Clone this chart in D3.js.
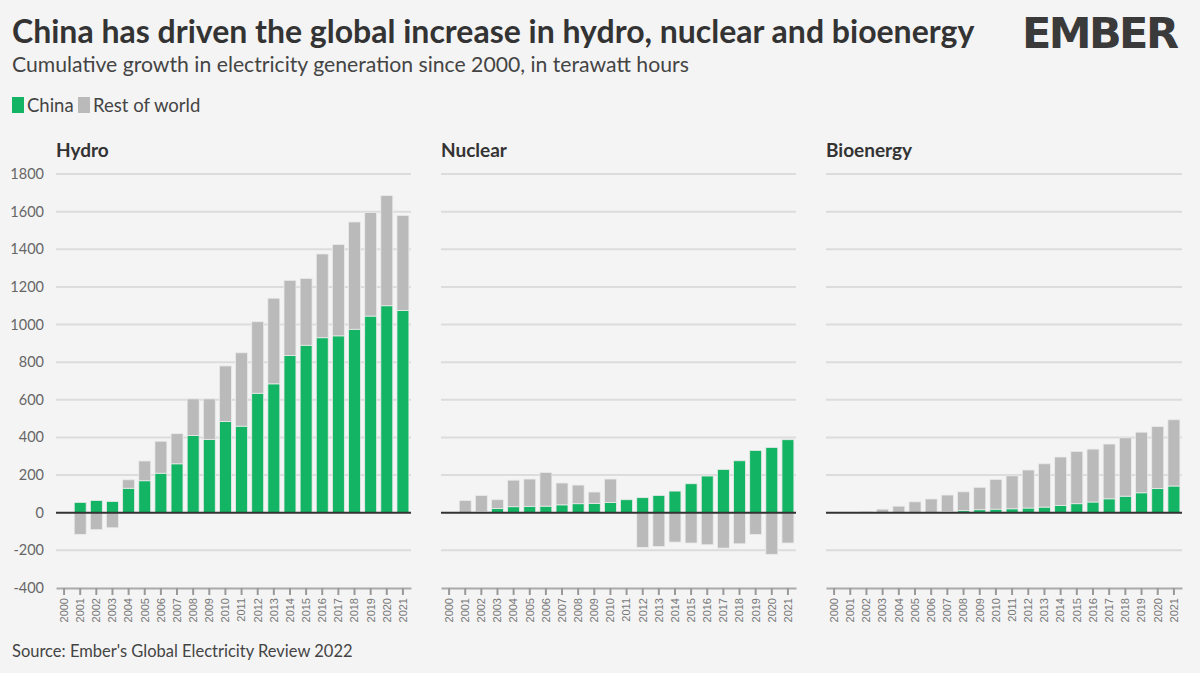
<!DOCTYPE html>
<html><head><meta charset="utf-8">
<script src="https://cdn.jsdelivr.net/npm/d3@7"></script>
<style>body{margin:0;background:#f4f4f4;font-family:"Source Sans Pro",Lato,"Noto Sans",sans-serif}</style>
</head><body><svg id="c" width="1200" height="673"></svg>
<script>
const years=d3.range(2000,2022).map(String);
const yTicks=[-400,-200,0,200,400,600,800,1000,1200,1400,1600,1800];
const hydroChina=[0,55,65,60,130,170,210,260,410,390,485,460,635,685,835,890,930,940,975,1045,1100,1075];
const hydroRest=[0,-115,-90,-80,45,105,170,160,195,215,295,390,380,455,400,355,445,485,570,550,585,505];
const nuclearChina=[0,0,5,23,32,34,35,42,48,50,55,69,80,92,115,154,195,230,276,331,347,388];
const nuclearRest=[0,65,87,46,141,145,179,116,99,60,124,0,-184,-180,-156,-161,-170,-188,-165,-115,-221,-161];
const bioChina=[0,0,0,0,0,0,0,5,11,16,19,21,25,30,39,48,57,74,88,106,129,142];
const bioTotal=[0,0,7,19,35,58,73,94,111,135,177,196,227,260,296,326,338,365,398,428,458,494];
const bioRest=bioTotal.map((t,i)=>t-bioChina[i]);
const panels=[
 {name:"Hydro",china:hydroChina,rest:hydroRest,x0:56,x1:411,labels:true},
 {name:"Nuclear",china:nuclearChina,rest:nuclearRest,x0:441,x1:796,labels:false},
 {name:"Bioenergy",china:bioChina,rest:bioRest,x0:826,x1:1182,labels:false}];
const GREEN="#13b564",GREY="#bababa";
const svg=d3.select("#c");
svg.append("rect").attr("width",1200).attr("height",673).attr("fill","#f4f4f4");
svg.append("text").attr("x",12).attr("y",43).attr("font-size",32).attr("font-weight",700).attr("fill","#333").text("China has driven the global increase in hydro, nuclear and bioenergy");
svg.append("text").attr("x",12).attr("y",72).attr("font-size",21.2).attr("fill","#444").text("Cumulative growth in electricity generation since 2000, in terawatt hours");
const lg=svg.append("g");
lg.append("rect").attr("x",12).attr("y",97).attr("width",12).attr("height",16).attr("fill",GREEN);
lg.append("text").attr("x",27).attr("y",112).attr("font-size",18.5).attr("fill","#444").text("China");
lg.append("rect").attr("x",78).attr("y",97).attr("width",12).attr("height",16).attr("fill",GREY);
lg.append("text").attr("x",93).attr("y",112).attr("font-size",18.5).attr("fill","#444").text("Rest of world");
svg.append("text").attr("x",12).attr("y",657).attr("font-size",16.5).attr("fill","#444").text("Source: Ember's Global Electricity Review 2022");
const logo=svg.append("g");
logo.append("text").attr("x",1180).attr("y",48).attr("text-anchor","end").attr("font-size",43).attr("font-weight",700).attr("letter-spacing",1).attr("textLength",158).attr("fill","#3a3a3a").attr("font-family","'DejaVu Sans',sans-serif").text("EMBER");
const y=d3.scaleLinear().domain([-400,1800]).range([588,174]);
panels.forEach(p=>{
 const g=svg.append("g");
 const x=d3.scaleBand().domain(years).range([p.x0,p.x1]).paddingInner(0.26).paddingOuter(0.13);
 g.append("text").attr("x",p.x0).attr("y",157).attr("font-size",19).attr("font-weight",700).attr("fill","#333").text(p.name);
 yTicks.filter(t=>t!==0&&t!==-400).forEach(t=>{
  g.append("line").attr("x1",p.x0).attr("x2",p.x1).attr("y1",y(t)).attr("y2",y(t)).attr("stroke","#dcdcdc").attr("stroke-width",2);
 });
 if(p.labels){
  yTicks.forEach(t=>g.append("text").attr("x",44).attr("y",y(t)+5).attr("text-anchor","end").attr("font-size",14.5).attr("fill","#666").text(t));
 }
 const bars=[];
 years.forEach((yr,i)=>{
  const c=p.china[i],r=p.rest[i];
  if(c) bars.push({yr,a:0,b:c,col:GREEN});
  if(r>0) bars.push({yr,a:c,b:c+r,col:GREY});
  if(r<0) bars.push({yr,a:r,b:0,col:GREY});
 });
 g.selectAll("rect.b").data(bars).join("rect").attr("x",d=>x(d.yr)).attr("width",x.bandwidth())
  .attr("y",d=>y(d.b)).attr("height",d=>y(d.a)-y(d.b)).attr("fill",d=>d.col).attr("stroke","#eaeaea").attr("stroke-width",0.8);
 g.append("line").attr("x1",p.x0).attr("x2",p.x1).attr("y1",y(0)).attr("y2",y(0)).attr("stroke","#333").attr("stroke-width",2);
 const ax=g.append("g").attr("transform",`translate(0,${y(-400)})`).call(d3.axisBottom(x).tickSize(7).tickSizeOuter(0).tickPadding(5));
 ax.select(".domain").attr("stroke","#aaa").attr("stroke-width",2);
 ax.selectAll(".tick line").attr("stroke","#999").attr("stroke-width",2);
 ax.selectAll("text").attr("font-size",11).attr("fill","#777").attr("font-family","inherit")
  .attr("transform","rotate(-90)").attr("text-anchor","end").attr("x",0).attr("y",0).attr("dx",-10).attr("dy","0.35em");
});
</script></body></html>
